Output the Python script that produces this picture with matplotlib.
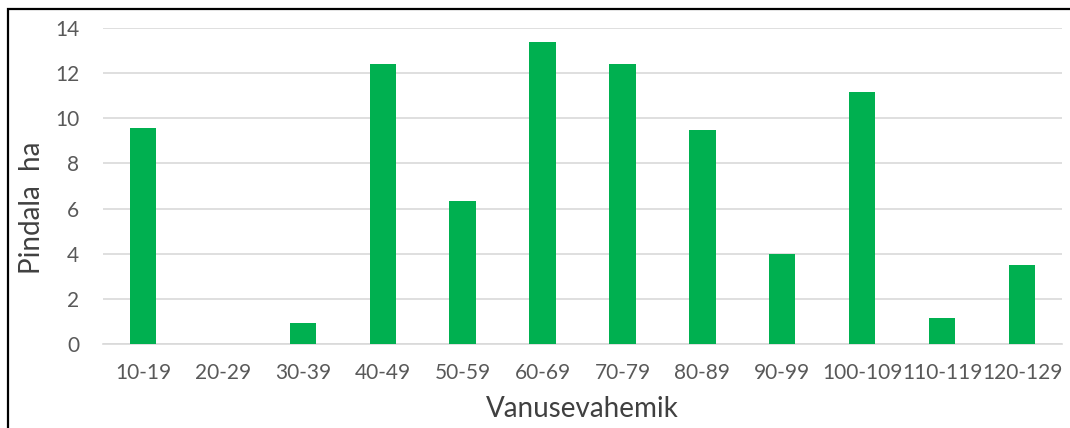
import matplotlib
matplotlib.use("Agg")
import matplotlib.pyplot as plt
from matplotlib.patches import Rectangle
import numpy as np

# age classes and area (ha)
categories = ["10-19", "20-29", "30-39", "40-49", "50-59", "60-69",
              "70-79", "80-89", "90-99", "100-109", "110-119", "120-129"]
area_ha = [9.55, 0.0, 0.95, 12.4, 6.35, 13.38, 12.4, 9.47, 4.0, 11.18, 1.15, 3.5]
y_ticks = [0, 2, 4, 6, 8, 10, 12, 14]

plt.rcParams['font.family'] = ['Lato', 'DejaVu Sans']

fig = plt.figure(figsize=(10.7, 4.28), dpi=100)
ax = fig.add_axes([103 / 1070, 1 - 344 / 428, (1062 - 103) / 1070, (344 - 28) / 428])

x = np.arange(len(categories))
ax.bar(x, area_ha, width=0.33, color="#00b050", zorder=3)

ax.set_xlim(-0.5, len(categories) - 0.5)
ax.set_ylim(0, 14)
ax.set_yticks(y_ticks)
ax.set_xticks(x)
ax.set_xticklabels(categories)
ax.yaxis.grid(True, color="#d9d9d9", linewidth=1.2, zorder=0)
for s in ["top", "right", "left"]:
    ax.spines[s].set_visible(False)
ax.spines["bottom"].set_color("#d9d9d9")
ax.spines["bottom"].set_linewidth(1.2)
ax.tick_params(axis="both", length=0, labelsize=15, colors="#595959")
ax.tick_params(axis="y", pad=17)
ax.tick_params(axis="x", pad=14)

ax.set_ylabel("Pindala  ha", fontsize=20, color="#404040")
ax.yaxis.set_label_coords(-0.06, 0.43)
ax.set_xlabel("Vanusevahemik", fontsize=20, color="#404040", labelpad=9)

# outer frame (cropped at right and bottom)
fig.add_artist(Rectangle((8 / 1070, -0.05), 1.1, 1 - 9 / 428 + 0.05,
                         fill=False, edgecolor="black", linewidth=1.6,
                         transform=fig.transFigure))

fig.savefig("out.png", dpi=100)
